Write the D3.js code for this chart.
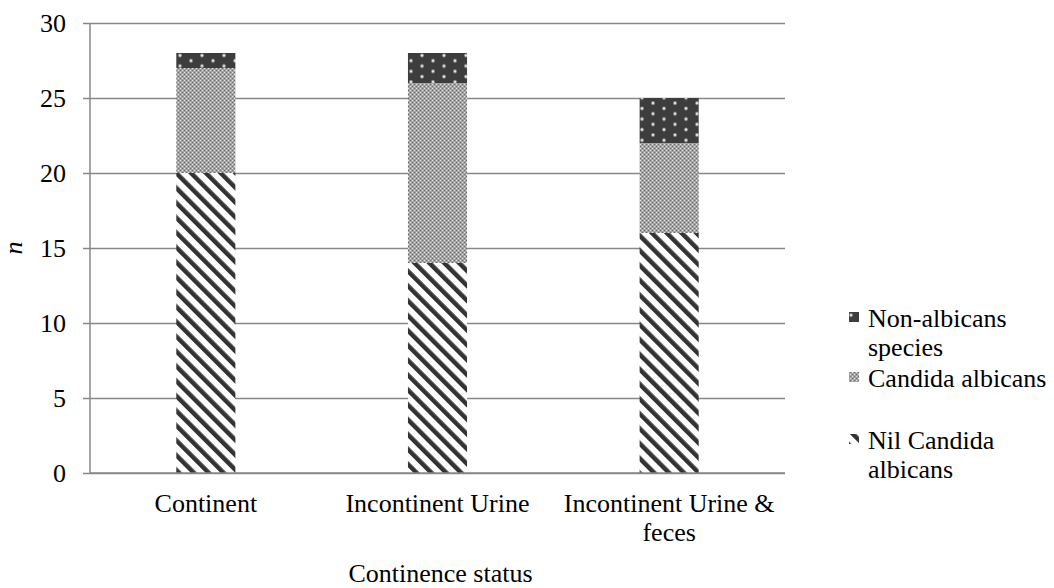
<!DOCTYPE html>
<html>
<head>
<meta charset="utf-8">
<script src="https://cdn.jsdelivr.net/npm/d3@7"></script>
<style>
  html, body { margin: 0; padding: 0; background: #fff; }
</style>
</head>
<body>
<svg id="chart" width="1054" height="588"></svg>
<script>
// Candida colonisation by continence status (stacked counts)
const categories = ["Continent", "Incontinent Urine", "Incontinent Urine & feces"];
const categoryLines = [["Continent"], ["Incontinent Urine"], ["Incontinent Urine &", "feces"]];
const nilCandida = [20, 14, 16];
const candidaAlbicans = [7, 12, 6];
const nonAlbicans = [1, 2, 3];
const yTicks = [0, 5, 10, 15, 20, 25, 30];

const serif = '"Liberation Serif"';
const svg = d3.select("#chart").attr("font-family", "Liberation Serif");
const margin = { left: 90, right: 785, top: 23, bottom: 473 };
const grey = "#878787";
const fontSize = 26;

// fill patterns: diagonal stripes, fine grey dither, dark with light dots
const defs = svg.append("defs");
const stripes = defs.append("pattern")
  .attr("id", "pat-nil").attr("patternUnits", "userSpaceOnUse")
  .attr("width", 10.5).attr("height", 10)
  .attr("patternTransform", "rotate(-45)");
stripes.append("rect").attr("width", 10.5).attr("height", 10).attr("fill", "#fff");
stripes.append("rect").attr("x", 0).attr("width", 4.5).attr("height", 10).attr("fill", "#333");

const checker = defs.append("pattern")
  .attr("id", "pat-ca").attr("patternUnits", "userSpaceOnUse")
  .attr("width", 4).attr("height", 4);
checker.append("rect").attr("width", 4).attr("height", 4).attr("fill", "#a3a3a3");
checker.append("rect").attr("x", 0).attr("y", 0).attr("width", 1).attr("height", 1).attr("fill", "#e6e6e6");
checker.append("rect").attr("x", 2).attr("y", 2).attr("width", 1).attr("height", 1).attr("fill", "#e6e6e6");
checker.append("rect").attr("x", 2).attr("y", 0).attr("width", 1).attr("height", 1).attr("fill", "#6e6e6e");
checker.append("rect").attr("x", 0).attr("y", 2).attr("width", 1).attr("height", 1).attr("fill", "#6e6e6e");

const dots = defs.append("pattern")
  .attr("id", "pat-non").attr("patternUnits", "userSpaceOnUse")
  .attr("width", 22).attr("height", 10.6);
dots.append("rect").attr("width", 22).attr("height", 10.6).attr("fill", "#3d3d3d");
[[4, 2.5], [15, 7.8]].forEach(([cx, cy]) => {
  dots.append("circle").attr("cx", cx).attr("cy", cy).attr("r", 2).attr("fill", "#8a8a8a");
  dots.append("circle").attr("cx", cx).attr("cy", cy).attr("r", 1.2).attr("fill", "#e4e4e4");
});

const x = d3.scaleBand()
  .domain(categories)
  .range([margin.left, margin.right])
  .paddingInner(0.745)
  .paddingOuter(0.3725);

const y = d3.scaleLinear().domain([0, 30]).range([margin.bottom, margin.top]);

// horizontal gridlines with left tick marks
const yAxis = d3.axisLeft(y).tickValues(yTicks)
  .tickSize(-(margin.right - margin.left + 7)).tickPadding(17)
  .tickFormat(d3.format("d"));
const gy = svg.append("g").attr("transform", `translate(${margin.left - 7},0)`).call(yAxis)
  .attr("font-family", null).attr("font-size", null);
gy.select(".domain").remove();
gy.selectAll(".tick line").attr("stroke", grey).attr("stroke-width", 1.3);
gy.selectAll(".tick text")
  .attr("fill", "#000")
  .style("font-family", serif)
  .style("font-size", fontSize + "px");

// vertical axis line
svg.append("line")
  .attr("x1", margin.left).attr("x2", margin.left)
  .attr("y1", y(30)).attr("y2", y(0))
  .attr("stroke", grey).attr("stroke-width", 1.5);

// stacked bars
const rows = categories.map((c, i) => ({
  cat: c, nil: nilCandida[i], ca: candidaAlbicans[i], non: nonAlbicans[i]
}));
const layers = d3.stack().keys(["nil", "ca", "non"])(rows);
const fills = { nil: "url(#pat-nil)", ca: "url(#pat-ca)", non: "url(#pat-non)" };

svg.append("g").selectAll("g").data(layers).join("g")
  .attr("fill", d => fills[d.key])
  .selectAll("rect").data(d => d).join("rect")
  .attr("x", d => x(d.data.cat))
  .attr("width", x.bandwidth())
  .attr("y", d => y(d[1]))
  .attr("height", d => y(d[0]) - y(d[1]));

// x axis line
svg.append("line")
  .attr("x1", margin.left).attr("x2", margin.right)
  .attr("y1", y(0)).attr("y2", y(0))
  .attr("stroke", grey).attr("stroke-width", 1.5);

function styleText(sel) {
  return sel.style("font-family", serif).style("font-size", fontSize + "px");
}

// category labels
const xl = svg.append("g");
categories.forEach((c, i) => {
  const cx = x(c) + x.bandwidth() / 2;
  const t = styleText(xl.append("text"))
    .attr("text-anchor", "middle")
    .attr("x", cx)
    .attr("y", 512);
  categoryLines[i].forEach((ln, j) => {
    t.append("tspan").attr("x", cx).attr("dy", j === 0 ? 0 : 29).text(ln);
  });
});

// axis titles
styleText(svg.append("text"))
  .attr("text-anchor", "middle")
  .attr("x", (margin.left + margin.right) / 2 + 3).attr("y", 582)
  .text("Continence status");

styleText(svg.append("text"))
  .attr("text-anchor", "middle")
  .style("font-style", "italic")
  .attr("transform", `translate(22,${(margin.top + margin.bottom) / 2}) rotate(-90)`)
  .text("n");

// legend, top to bottom in reverse stack order
const legendItems = [
  { fill: fills.non, lines: ["Non-albicans", "species"], y: 327 },
  { fill: fills.ca, lines: ["Candida albicans"], y: 387 },
  { fill: fills.nil, lines: ["Nil Candida", "albicans"], y: 449 }
];
const lg = svg.append("g");
legendItems.forEach(it => {
  lg.append("rect")
    .attr("x", 849).attr("y", it.y - 15)
    .attr("width", 10).attr("height", 10)
    .attr("fill", it.fill);
  const t = styleText(lg.append("text")).attr("x", 868).attr("y", it.y);
  it.lines.forEach((ln, j) => {
    t.append("tspan").attr("x", 868).attr("dy", j === 0 ? 0 : 29).text(ln);
  });
});
</script>
</body>
</html>
